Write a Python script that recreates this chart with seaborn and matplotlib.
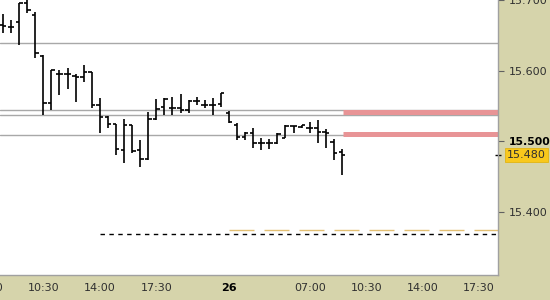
import matplotlib
matplotlib.use("Agg")
import matplotlib.pyplot as plt
import seaborn as sns
import numpy as np
import pandas as pd

# ---- data (30-minute OHLC bars) ----
open_ = [15.664, 15.662, 15.669, 15.696, 15.679, 15.621, 15.554, 15.595, 15.595, 15.592,
         15.591, 15.598, 15.551, 15.534, 15.524, 15.487, 15.523, 15.487, 15.474, 15.531,
         15.548, 15.547, 15.547, 15.544, 15.557, 15.551, 15.551, 15.552, 15.540, 15.523,
         15.506, 15.511, 15.497, 15.497, 15.497, 15.504, 15.521, 15.520, 15.518, 15.518,
         15.513, 15.499, 15.484]
high = [15.680, 15.672, 15.696, 15.701, 15.683, 15.622, 15.601, 15.601, 15.604, 15.595,
        15.608, 15.598, 15.561, 15.535, 15.524, 15.531, 15.523, 15.501, 15.541, 15.560,
        15.561, 15.562, 15.567, 15.558, 15.562, 15.558, 15.561, 15.568, 15.543, 15.526,
        15.513, 15.518, 15.504, 15.503, 15.511, 15.523, 15.521, 15.523, 15.527, 15.530,
        15.517, 15.503, 15.489]
low = [15.653, 15.653, 15.636, 15.682, 15.618, 15.537, 15.544, 15.565, 15.574, 15.555,
       15.584, 15.547, 15.511, 15.518, 15.480, 15.469, 15.483, 15.463, 15.473, 15.530,
       15.537, 15.537, 15.540, 15.540, 15.551, 15.547, 15.537, 15.548, 15.526, 15.501,
       15.501, 15.490, 15.487, 15.489, 15.496, 15.504, 15.511, 15.518, 15.511, 15.497,
       15.490, 15.473, 15.452]
close = [15.663, 15.662, 15.696, 15.686, 15.625, 15.554, 15.601, 15.595, 15.595, 15.591,
         15.598, 15.551, 15.534, 15.524, 15.489, 15.523, 15.486, 15.474, 15.531, 15.545,
         15.560, 15.547, 15.544, 15.557, 15.557, 15.551, 15.551, 15.568, 15.527, 15.506,
         15.511, 15.497, 15.497, 15.497, 15.510, 15.521, 15.521, 15.523, 15.518, 15.513,
         15.511, 15.483, 15.480]

tick_pos = [5, 12, 19, 26, 31, 38, 45, 52, 59]
tick_labels = ["10:30", "14:00", "17:30", "", "", "07:00", "10:30", "14:00", "17:30"]
edge_label = "07:00"
edge_pos = -2
day_label = "26"
day_pos = 28

gray_levels = [15.639, 15.544, 15.537, 15.5085]
band_levels = [15.541, 15.5095]
band_start = 42.1
black_dash_level = 15.368
black_dash_start = 12
orange_level = 15.374
orange_start = 28

y_ticks = [15.400, 15.500, 15.600, 15.700]
last_price = 15.480

df = pd.DataFrame({"i": np.arange(len(open_)), "open": open_, "high": high,
                   "low": low, "close": close})

sns.set_style("white")
plt.rcParams["font.family"] = ["DejaVu Sans"]
FS = 8

panel = "#d6d4ab"
fig = plt.figure(figsize=(5.5, 3.0), dpi=100, facecolor=panel)
ax = fig.add_axes([0, 25 / 300, 498 / 550, 275 / 300])
ax.set_facecolor("white")

xmin, xmax = -3 / 8.07, (498 - 3) / 8.07
ax.set_xlim(xmin, xmax)
ax.set_ylim(15.310, 15.700)

# reference lines
for lv in gray_levels:
    ax.axhline(lv, color="#a8a8a8", lw=1.0, zorder=1)
for lv in band_levels:
    ax.hlines(lv, band_start, xmax, color="#e89496", lw=3.6, zorder=2)
ax.hlines(black_dash_level, black_dash_start, xmax, color="black", lw=1.0,
          linestyles=(0, (3.2, 3.2)), zorder=2)
ax.hlines(orange_level, orange_start, xmax, color="#e3bf72", lw=1.0,
          linestyles=(0, (18, 7.2)), zorder=2)

# OHLC bars
w = 0.42
ax.vlines(df["i"], df["low"], df["high"], color="black", lw=1.2, zorder=3)
ax.hlines(df["open"], df["i"] - w, df["i"], color="black", lw=1.2, zorder=3)
ax.hlines(df["close"], df["i"], df["i"] + w, color="black", lw=1.2, zorder=3)

# axes styling
for s in ["top", "left"]:
    ax.spines[s].set_visible(False)
for s in ["right", "bottom"]:
    ax.spines[s].set_color("#a0a0a0")
    ax.spines[s].set_linewidth(1.0)

ax.yaxis.tick_right()
ax.set_yticks(y_ticks)
ax.set_yticklabels([f"{v:.3f}" for v in y_ticks])
ax.tick_params(axis="y", direction="out", length=4, width=0.8, color="#606060",
               labelsize=FS, labelcolor="#303030", pad=4)
for lbl, v in zip(ax.get_yticklabels(), y_ticks):
    if abs(v - 15.5) < 1e-9:
        lbl.set_fontweight("bold")
        lbl.set_color("black")
        lbl.set_fontsize(7.8)

ax.set_xticks(tick_pos)
ax.set_xticklabels(tick_labels)
ax.tick_params(axis="x", direction="out", length=4, width=0.8, color="#b8b6a0",
               labelsize=FS, labelcolor="#303030", pad=1.5)
xt = ax.get_xaxis_transform()
# partially visible label at the left edge
ax.text(edge_pos, -0.028, edge_label, transform=xt, ha="center",
        va="top", fontsize=FS, color="#303030", clip_on=False)
ax.text(day_pos, -0.028, day_label, transform=xt, ha="center",
        va="top", fontsize=FS, fontweight="bold", color="black", clip_on=False)

# last price marker
ax.plot([xmax], [last_price], marker="_", color="black", ms=5, clip_on=False)
ax.text(1.0 + 9 / 498, last_price, f"{last_price:.3f}", transform=ax.get_yaxis_transform(),
        ha="left", va="center", fontsize=FS, color="#303030",
        bbox=dict(boxstyle="square,pad=0.2", fc="#f8c81c", ec="#e0b000", lw=0.5),
        clip_on=False)

fig.savefig("out.png", dpi=100, facecolor=panel)
